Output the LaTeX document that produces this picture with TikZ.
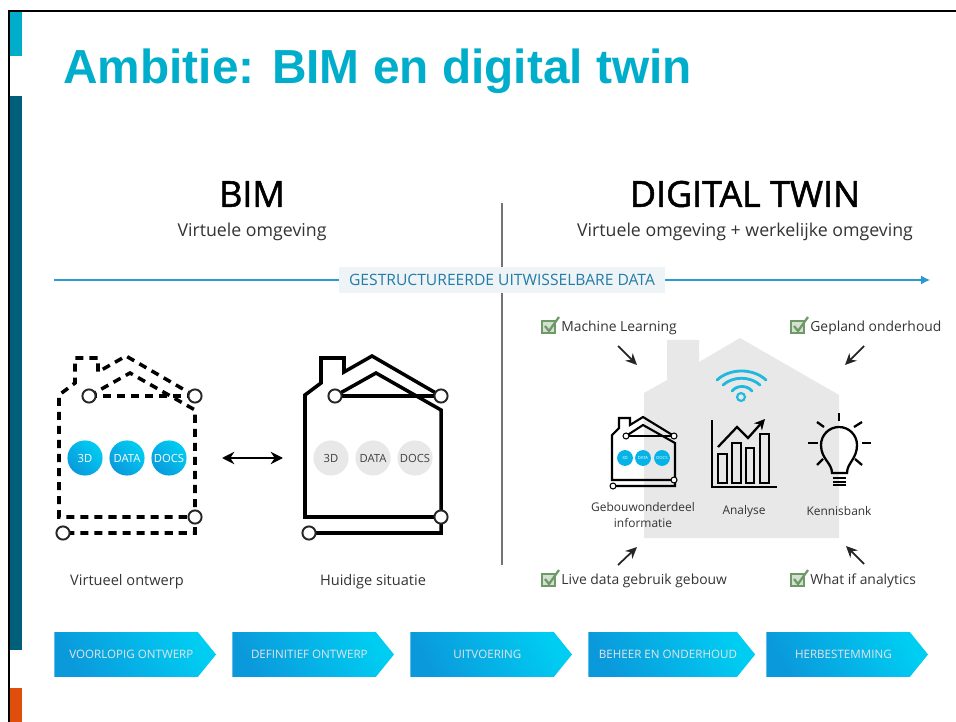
\documentclass[tikz,border=0pt]{standalone}
\usepackage{fontspec}
\setmainfont{Open Sans}
\newfontfamily\titlefont{Liberation Sans}
\newfontfamily\headfont[FakeBold=1.5]{Open Sans}
\usetikzlibrary{shapes.symbols,arrows.meta}
\definecolor{titleblue}{HTML}{00AECB}
\definecolor{barteal}{HTML}{005F7A}
\definecolor{barorange}{HTML}{E04E0B}
\definecolor{linkblue}{HTML}{2C9AD2}
\definecolor{datagrey}{HTML}{EEF3F6}
\definecolor{housegrey}{HTML}{E8E8E8}
\definecolor{darkcyan}{HTML}{0A9ADC}
\definecolor{lightcyan}{HTML}{00CDF2}
\definecolor{checkgreen}{HTML}{6F9A68}
\tikzset{
  txt/.style={font=\fontsize{#1}{#1}\selectfont, text=black!80, inner sep=0pt},
  head/.style={font=\headfont\fontsize{20.4}{20}\selectfont, text=black, inner sep=0pt},
  hole/.style={circle, draw=black!85, fill=white, line width=1.1pt, minimum size=7.5pt, inner sep=0pt},
  minihole/.style={circle, draw=black, fill=white, line width=.6pt, minimum size=3.4pt, inner sep=0pt},
  phase/.style={signal, signal to=east, signal pointer angle=102, minimum width=92pt, minimum height=25.5pt,
    inner sep=0pt, bottom color=darkcyan, top color=lightcyan, shading angle=-60, text=white!90!black,
    font=\fontsize{6.6}{7}\selectfont},
  bubble/.style={circle, minimum size=20pt, inner sep=0pt, font=\fontsize{6.4}{7}\selectfont},
  tag/.style={txt=7.9, anchor=west},
  pointer/.style={-{Stealth[length=6.5pt,width=6pt]}, line width=1pt, black!85},
  virtline/.style={dash pattern=on 4.6pt off 3.4pt},
  realline/.style={},
  icon/.style={line width=1.3pt},
}
\begin{document}
\begin{tikzpicture}[x=0.02cm, y=-0.02cm]
\useasboundingbox (0,0) rectangle (956,722);
% slide frame
\fill[titleblue] (10,12) rectangle (22,56);
\fill[barteal] (10,96) rectangle (22,650);
\fill[barorange] (10,688) rectangle (22,722);
\draw[line width=1.5pt] (9,722) -- (9,11) -- (956,11);
\node[anchor=west, inner sep=0pt, text=titleblue] (title) at (63,71) {\titlefont\bfseries\fontsize{27.2}{27}\selectfont Ambitie: BIM en digital twin};
% headings
\node[head] (bim) at (252,194) {BIM};
\node[head] (twin) at (745,194) {DIGITAL TWIN};
\node[txt=10.1] (bimsub) at (252,232) {Virtuele omgeving};
\node[txt=10.1] (twinsub) at (745,232) {Virtuele omgeving + werkelijke omgeving};
% data line
\coordinate (divtop) at (502,203);
\coordinate (divbot) at (502,565);
\draw[black!55, line width=.8pt] (divtop) -- (divbot);
\coordinate (datastart) at (54,280);
\coordinate (dataend) at (930,280);
\draw[-{Latex[length=5pt,width=5pt]}, linkblue, line width=.7pt] (datastart) -- (dataend);
\node[fill=datagrey, minimum width=186pt, minimum height=15pt, inner sep=0pt, text=linkblue!80!black,
  font=\fontsize{8.9}{9}\selectfont] (data) at (502,280) {GESTRUCTUREERDE UITWISSELBARE DATA};
% grey house
\fill[housegrey] (644,538) -- (839,538) -- (839,395) -- (740,338) -- (699,362) -- (699,340) -- (667,340) -- (667,380) -- (644,393) -- cycle;
% two big houses
\foreach \dx/\hstyle/\nm in {0/virtline/virt, 246/realline/real} {
  \begin{scope}[xshift=\dx*0.02cm, line width=2pt, \hstyle]
    \draw (195,396) -- (126,356) -- (98,372) -- (98,358) -- (75,358) -- (75,383) -- (59,395) -- (59,517) -- (195,517);
    \draw (89,396) -- (195,396);
    \draw (89,396) -- (130,373) -- (195,410) -- (195,533) -- (63,533);
  \end{scope}
  \begin{scope}[xshift=\dx*0.02cm]
    \node[hole] (\nm a) at (89,396) {};
    \node[hole] (\nm b) at (195,396) {};
    \node[hole] (\nm c) at (195,517) {};
    \node[hole] (\nm d) at (63,533) {};
  \end{scope}
}
\foreach \x/\t/\n in {85/3D/a, 127/DATA/b, 169/DOCS/c} {
  \node[bubble, bottom color=darkcyan, top color=lightcyan, shading angle=-45, text=white] (blue\n) at (\x,458) {\t};
}
\foreach \x/\t/\n in {331/3D/a, 373/DATA/b, 415/DOCS/c} {
  \node[bubble, fill=black!9, text=black!75] (grey\n) at (\x,458) {\t};
}
\coordinate (swapl) at (222,458);
\coordinate (swapr) at (283,458);
\draw[{Stealth[length=7pt,width=7pt]}-{Stealth[length=7pt,width=7pt]}, line width=1.1pt] (swapl) -- (swapr);
\node[txt=8.3] (virtlabel) at (127,582) {Virtueel ontwerp};
\node[txt=8.3] (reallabel) at (373,582) {Huidige situatie};
% wifi
\draw[linkblue!70!cyan, line width=1.6pt, line cap=round] (717,380) .. controls (730,368) and (753,368) .. (766,380);
\draw[linkblue!70!cyan, line width=1.6pt, line cap=round] (723,385) .. controls (733,376) and (750,376) .. (760,385);
\draw[linkblue!70!cyan, line width=1.6pt, line cap=round] (732,391) .. controls (737,385) and (747,385) .. (752,391);
\node[circle, draw=linkblue!70!cyan, line width=1.2pt, minimum size=4.5pt, inner sep=0pt] (wifi) at (741,397) {};
% small house
\begin{scope}[line width=1.2pt]
  \draw (674,436) -- (643,417) -- (630,425) -- (630,418) -- (619,418) -- (619,428) -- (612,435) -- (612,480) -- (674,480);
  \draw (626,436) -- (674,436);
  \draw (626,436) -- (643,425) -- (675,443) -- (675,486) -- (613,486);
\end{scope}
\foreach \x/\y/\n in {626/436/a, 674/436/b, 674/480/c, 613/486/d} {
  \node[minihole] (mini\n) at (\x,\y) {};
}
\foreach \x/\t/\n in {625/3D/a, 643/DATA/b, 662/DOCS/c} {
  \node[circle, minimum size=9pt, inner sep=0pt, fill=lightcyan!50!darkcyan, text=white, font=\fontsize{2.4}{3}\selectfont] (mb\n) at (\x,458) {\t};
}
% chart
\draw[icon] (712,420) -- (712,487) -- (777,487);
\foreach \xa/\xb/\yt in {718/727/454, 732/741/443, 746/754/448, 760/769/434} {
  \draw[icon] (\xa,483) rectangle (\xb,\yt);
}
\draw[icon, -{Stealth[length=6pt,width=6pt]}] (718,447) -- (737,427) -- (748,438) -- (765,419);
% lamp
\draw[icon] (832,473) .. controls (832,463) and (821,459) .. (821,445) arc (180:0:18 and -18) .. controls (857,459) and (847,463) .. (847,473) -- cycle;
\foreach \ya in {478,482,485} {
  \draw[line width=1pt] (833,\ya) -- (846,\ya);
}
\foreach \xa/\ya/\xb/\yb in {839/413/839/421, 808/443/818/443, 862/443/871/443, 817/422/824/427, 862/422/854/427, 817/465/823/459, 862/465/855/459} {
  \draw[icon] (\xa,\ya) -- (\xb,\yb);
}
\node[txt=6.8, align=center] (gebouw) at (643,515) {Gebouwonderdeel\\[2.5pt]informatie};
\node[txt=6.8] (analyse) at (744,511) {Analyse};
\node[txt=6.8] (kennis) at (839,511) {Kennisbank};
% check list
\foreach \x/\y/\t/\n in {561/327/Machine Learning/ml, 810/327/Gepland onderhoud/gp, 561/580/Live data gebruik gebouw/ld, 810/580/What if analytics/wi} {
  \node[tag] (\n) at (\x,\y+1) {\t};
  \draw[checkgreen, fill=checkgreen!30, line width=.8pt] (\x-19,\y-6) rectangle (\x-6,\y+6);
  \draw[checkgreen, line width=1.3pt] (\x-16,\y-1) -- (\x-12,\y+4) -- (\x-2,\y-10);
}
\coordinate (mlend) at (637,365);
\coordinate (gpend) at (845,365);
\coordinate (ldend) at (637,547);
\coordinate (wiend) at (846,546);
\coordinate (mlstart) at (618,346);
\coordinate (gpstart) at (864,346);
\coordinate (ldstart) at (618,565);
\coordinate (wistart) at (864,564);
\draw[pointer] (mlstart) -- (mlend);
\draw[pointer] (gpstart) -- (gpend);
\draw[pointer] (ldstart) -- (ldend);
\draw[pointer] (wistart) -- (wiend);
% phases
\foreach \x/\t/\n in {54/VOORLOPIG ONTWERP/a, 232/DEFINITIEF ONTWERP/b, 410/UITVOERING/c, 588/BEHEER EN ONDERHOUD/d, 766/HERBESTEMMING/e} {
  \node[phase, anchor=west] (phase\n) at (\x,654.5) {\hspace*{6pt}\t};
}
\end{tikzpicture}
\end{document}
